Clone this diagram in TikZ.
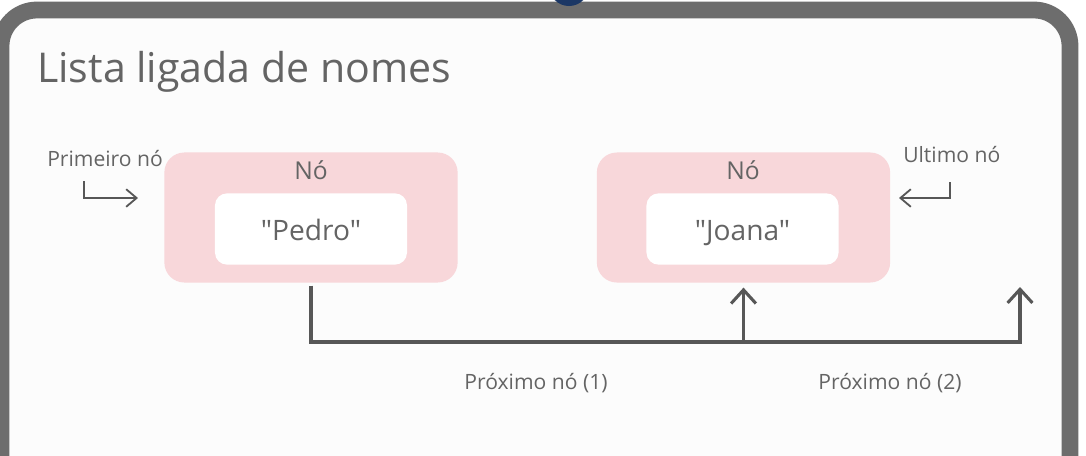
\documentclass[tikz,border=0pt]{standalone}
\usepackage{fontspec}
\setmainfont{Open Sans}[Ligatures=TeXOff]
\usepackage{tikz}
\usetikzlibrary{arrows.meta,positioning,calc}
\definecolor{frame}{HTML}{6D6D6D}
\definecolor{pinkbox}{HTML}{F8D7DA}
\definecolor{txt}{HTML}{646464}
\definecolor{linkc}{HTML}{575757}
\definecolor{navy}{HTML}{1B3765}
\begin{document}
\begin{tikzpicture}
 [x=0.025cm,y=-0.025cm, every node/.style={text=txt},
nodebox/.style={fill=pinkbox,rounded corners=0.5cm,minimum width=7.33cm,minimum height=3.25cm},
valbox/.style={fill=white,rounded corners=0.3cm,minimum width=4.8cm,minimum height=1.78cm},
lbl/.style={inner sep=0pt,font=\fontsize{15}{18}\selectfont},
link/.style={draw=linkc,line width=2.2pt,-{Straight Barb[length=3.4mm,width=6.2mm]}},
hook/.style={draw=linkc,line width=1.3pt,-{Straight Barb[length=2.6mm,width=4.4mm]}}]
\clip (0,0) rectangle (1086,455);
\fill[white] (0,0) rectangle (1086,455);
\draw[frame,fill={rgb,255:red,252;green,252;blue,252},line width=0.42cm,rounded corners=0.9cm] (1,10) rectangle (1070,540);
\fill[navy] (569,-14) circle (20);

\node[anchor=base west,inner sep=0pt,font=\fontsize{29.2}{35}\selectfont] (title) at (37,82) {Lista ligada de nomes};

\node (n1) at (311,217.5)[nodebox] {};
\node (v1) at (311,229)[valbox] {};
\node (k1) at (311,179)[anchor=base,inner sep=0pt,font=\fontsize{17.5}{21}\selectfont] {Nó};
\node (t1) at (311,240)[anchor=base,inner sep=0pt,font=\fontsize{20}{24}\selectfont] {"Pedro"};

\node (n2) at (743.5,217.5)[nodebox] {};
\node (v2) at (742.5,229)[valbox] {};
\node (k2) at (743,179)[anchor=base,inner sep=0pt,font=\fontsize{17.5}{21}\selectfont] {Nó};
\node (t2) at (742.5,240)[anchor=base,inner sep=0pt,font=\fontsize{20}{24}\selectfont] {"Joana"};

\node (first) at (47,166)[lbl,anchor=base west] {Primeiro nó};
\node (last) at (903,162)[lbl,anchor=base west] {Ultimo nó};
\coordinate (h1) at (84,181);
\coordinate (h1e) at (138,198);
\coordinate (h2) at (950,182);
\coordinate (h2e) at (899,198);
\draw[hook] (h1) |- (h1e);
\draw[hook] (h2) |- (h2e);

\coordinate (c1) at (n1.south |- 0,342);
\coordinate (c2) at (1020,342);
\coordinate (e2) at (1020,287);
\draw[link] ([yshift=-0.07cm]n1.south) -- (c1) -- (c2) -- (e2);
\draw[link] (n2.south |- c1) -- ([yshift=-0.12cm]n2.south);

\node (nx1) at (536,389)[lbl,anchor=base] {Próximo nó (1)};
\node (nx2) at (890,389)[lbl,anchor=base] {Próximo nó (2)};
\end{tikzpicture}
\end{document}
